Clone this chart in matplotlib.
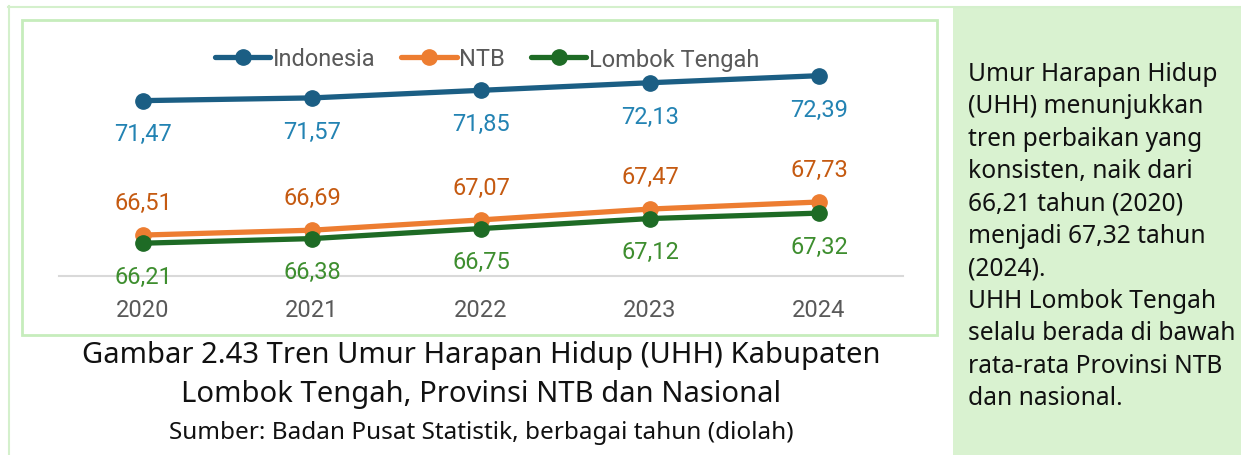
import matplotlib.pyplot as plt
from matplotlib.patches import Rectangle
import numpy as np

plt.rcParams['font.family'] = ['Roboto', 'DejaVu Sans']

years = ['2020', '2021', '2022', '2023', '2024']
indonesia = [71.47, 71.57, 71.85, 72.13, 72.39]
ntb = [66.51, 66.69, 67.07, 67.47, 67.73]
lombok_tengah = [66.21, 66.38, 66.75, 67.12, 67.32]

caption = ['Gambar 2.43 Tren Umur Harapan Hidup (UHH) Kabupaten',
           'Lombok Tengah, Provinsi NTB dan Nasional']
source = 'Sumber: Badan Pusat Statistik, berbagai tahun (diolah)'
note = ['Umur Harapan Hidup', '(UHH) menunjukkan', 'tren perbaikan yang',
        'konsisten, naik dari', '66,21 tahun (2020)', 'menjadi 67,32 tahun',
        '(2024).', 'UHH Lombok Tengah', 'selalu berada di bawah',
        'rata-rata Provinsi NTB', 'dan nasional.']

W, H = 1241, 456
fig = plt.figure(figsize=(W / 100, H / 100), dpi=100)

# background layer in pixel coords
bg = fig.add_axes([0, 0, 1, 1])
bg.set_xlim(0, W)
bg.set_ylim(H, 0)
bg.axis('off')
green = '#C6EDBC'
bg.plot([8, W], [7.5, 7.5], color='#D4F0CC', lw=1.5)
bg.plot([8.5, 8.5], [7, H], color='#D4F0CC', lw=1.5)
bg.add_patch(Rectangle((22, 21), 915, 315, fill=False, ec=green, lw=2))
bg.add_patch(Rectangle((953, 8), W - 953, H - 8, fc='#D9F2D0', ec='none'))

txt = ['Noto Sans', 'DejaVu Sans']
for i, line in enumerate(caption):
    bg.text(481, 356 + i * 39, line, ha='center', va='center', fontsize=21,
            color='#111111', family=txt)
bg.text(481, 433, source, ha='center', va='center', fontsize=17.5,
        color='#111111', family=txt)
for i, line in enumerate(note):
    bg.text(968, 74.5 + i * 32.4, line, ha='left', va='center', fontsize=17.7,
            color='#111111', family=txt)

# chart axes: x 59..903 px, y 55..277 px
ax = fig.add_axes([59 / W, 1 - 277 / H, 844 / W, 222 / H])
ax.patch.set_alpha(0)
x = np.arange(len(years))
series = [
    (indonesia, 'Indonesia', '#1B5E84', '#2383B3', -24),
    (ntb, 'NTB', '#ED7D31', '#C55A11', 23.5),
    (lombok_tengah, 'Lombok Tengah', '#1E6B25', '#3E8E2F', -24),
]
for vals, name, c, lc, off in series:
    ax.plot(x, vals, color=c, lw=3.8, marker='o', ms=11, label=name, solid_capstyle='round')
    for xi, v in zip(x, vals):
        ax.annotate(f'{v:.2f}'.replace('.', ','), (xi, v), xytext=(0, off),
                    textcoords='offset points', ha='center', va='center',
                    fontsize=17, color=lc)

ax.set_xlim(-0.497, 4.497)
ax.set_ylim(65, 73.19)
ax.set_yticks([])
ax.set_xticks(x, labels=years)
ax.tick_params(axis='x', length=0, pad=15.5, labelsize=17, labelcolor='#595959')
for s in ['top', 'left', 'right']:
    ax.spines[s].set_visible(False)
ax.spines['bottom'].set_color('#D9D9D9')
ax.spines['bottom'].set_linewidth(1.5)

ax.legend(loc='center', bbox_to_anchor=(487 / W, 1 - 60 / H), bbox_transform=fig.transFigure,
          ncol=3, frameon=False, fontsize=17, labelcolor='#595959',
          handlelength=2.35, handletextpad=0.1, columnspacing=1.1)

fig.savefig('out.png', dpi=100)
